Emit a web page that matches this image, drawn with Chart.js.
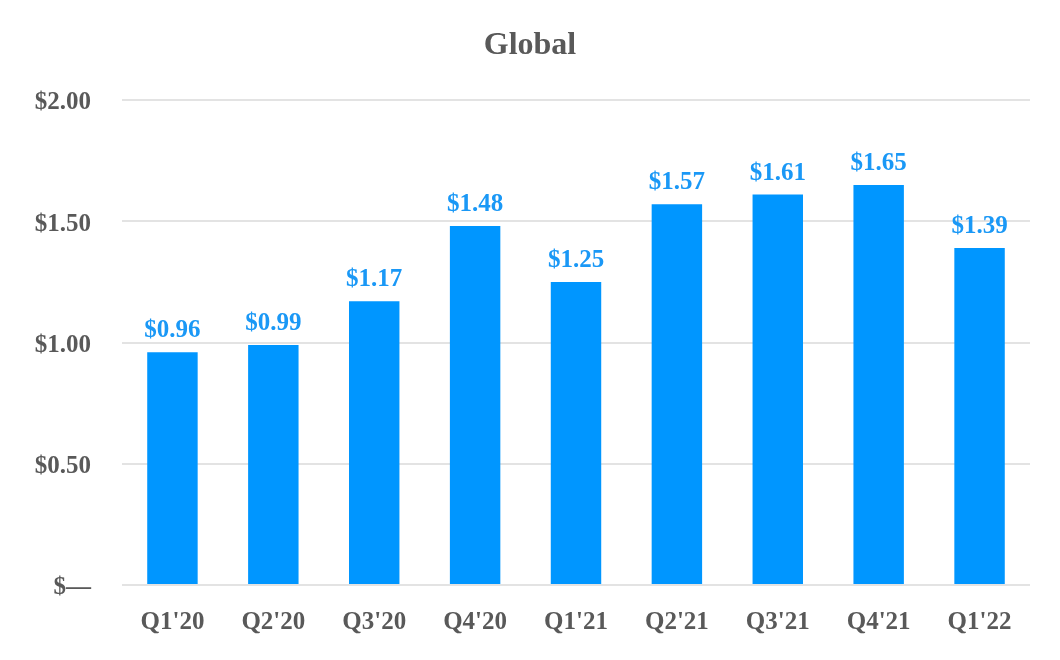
<!DOCTYPE html>
<html>
<head>
<meta charset="utf-8">
<script src="https://cdn.jsdelivr.net/npm/chart.js@4"></script>
<style>
  html, body { margin: 0; padding: 0; background: #ffffff; }
  #wrap { width: 1060px; height: 660px; position: relative; }
</style>
</head>
<body>
<div id="wrap"><canvas id="c"></canvas></div>
<script>
const categories = ["Q1'20", "Q2'20", "Q3'20", "Q4'20", "Q1'21", "Q2'21", "Q3'21", "Q4'21", "Q1'22"];
const values = [0.96, 0.99, 1.17, 1.48, 1.25, 1.57, 1.61, 1.65, 1.39];
const yTickValues = [0, 0.5, 1.0, 1.5, 2.0];
const yTickLabels = ['$\u2014', '$0.50', '$1.00', '$1.50', '$2.00'];
const titleText = 'Global';

const FONT = "'Liberation Serif', 'Times New Roman', serif";
const GRAY = '#595959';
const BAR = '#0096FF';
const LABEL = '#1A98F6';

const valueLabels = {
  id: 'valueLabels',
  afterDatasetsDraw(chart) {
    const ctx = chart.ctx;
    const meta = chart.getDatasetMeta(0);
    ctx.save();
    ctx.font = "bold 25px " + FONT;
    ctx.fillStyle = LABEL;
    ctx.textAlign = 'center';
    ctx.textBaseline = 'alphabetic';
    meta.data.forEach((bar, i) => {
      ctx.fillText('$' + values[i].toFixed(2), bar.x, bar.y - 15);
    });
    ctx.restore();
  }
};

new Chart(document.getElementById('c'), {
  type: 'bar',
  data: {
    labels: categories,
    datasets: [{
      data: values,
      backgroundColor: BAR,
      borderWidth: 0,
      categoryPercentage: 1.0,
      barPercentage: 0.5
    }]
  },
  options: {
    responsive: true,
    maintainAspectRatio: false,
    animation: false,
    layout: { padding: { left: 30, right: 30, top: 0, bottom: 0 } },
    plugins: {
      legend: { display: false },
      tooltip: { enabled: false },
      title: {
        display: true,
        text: titleText,
        color: GRAY,
        font: { family: FONT, size: 32, weight: 'bold', lineHeight: 1.2 },
        padding: { top: 27, bottom: 34.6 }
      }
    },
    scales: {
      x: {
        grid: { display: false, drawTicks: false },
        border: { display: false },
        ticks: {
          color: GRAY,
          font: { family: FONT, size: 25, weight: 'bold' },
          padding: 23,
          maxRotation: 0,
          autoSkip: false
        },
        afterFit(scale) { scale.height = 660 - 585; }
      },
      y: {
        min: 0,
        max: 2,
        afterBuildTicks(scale) {
          scale.ticks = yTickValues.map(v => ({ value: v }));
        },
        grid: { color: '#E3E3E3', lineWidth: 2, drawTicks: false },
        border: { display: false },
        ticks: {
          color: GRAY,
          font: { family: FONT, size: 25, weight: 'bold' },
          padding: 31,
          labelOffset: 3,
          callback(value) {
            const i = yTickValues.indexOf(value);
            return i >= 0 ? yTickLabels[i] : '';
          }
        },
        afterFit(scale) { scale.width = 92; }
      }
    }
  },
  plugins: [valueLabels]
});
</script>
</body>
</html>
